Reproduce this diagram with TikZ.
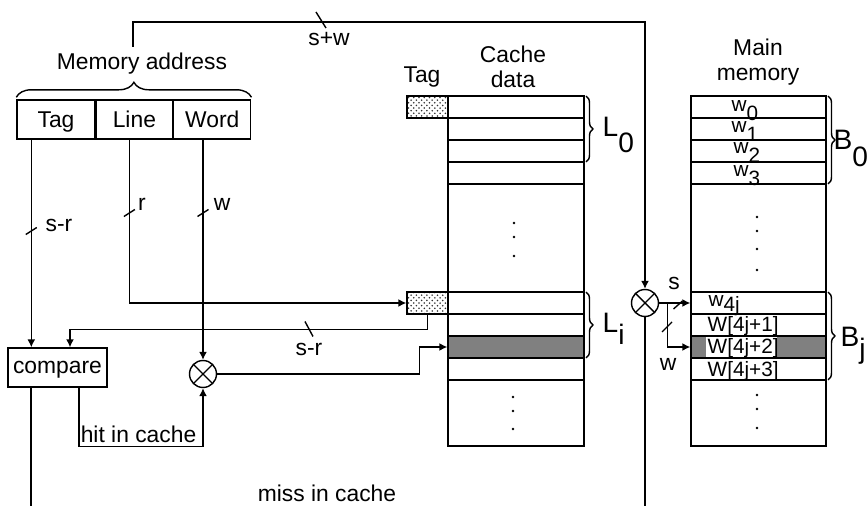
\documentclass[tikz,border=0pt]{standalone}
\usepackage{fontspec}
\setmainfont{Liberation Sans}
\usetikzlibrary{arrows.meta,positioning,calc,decorations.pathreplacing,patterns}

\newcommand{\lowr}[2][-0.42em]{\raisebox{#1}{#2}}

\tikzset{
  field/.style={draw, minimum height=0.78cm, inner sep=0pt, text height=9.3pt, text depth=0pt},
  cmpbox/.style={draw, minimum width=1.98cm, minimum height=0.78cm, inner sep=0pt, text height=9.3pt, text depth=3pt},
  tagbox/.style={draw, pattern=crosshatch dots, pattern color=black!80, minimum width=0.82cm, minimum height=0.44cm, inner sep=0pt},
  darkrow/.style={draw, fill=black!50, minimum height=0.44cm, inner sep=0pt},
  mux/.style={circle, draw, minimum size=0.54cm, inner sep=0pt,
    path picture={\draw (path picture bounding box.north west) -- (path picture bounding box.south east)
      (path picture bounding box.north east) -- (path picture bounding box.south west);}},
  rbrace/.style={decorate, decoration={brace, amplitude=0.14cm}},
  blab/.style={anchor=base west, inner sep=0pt, font=\fontsize{16}{18}\selectfont},
  wlab/.style={anchor=base west, inner sep=0pt, font=\fontsize{11.8}{13}\selectfont}
}

\begin{document}
\begin{tikzpicture}[x=0.02cm, y=-0.02cm, >={Latex[length=4.5pt,width=4.5pt]}, line width=0.8pt, font=\fontsize{13}{14.5}\selectfont]
  \useasboundingbox (0,0) rectangle (867,506);
  \coordinate (bot) at (0,506);

  % Adresse
  \node[field, minimum width=1.56cm] (tagf) at (56,119.5) {Tag};
  \node[field, minimum width=1.52cm, right=0pt of tagf] (linef) {Line};
  \node[field, minimum width=1.54cm, right=0pt of linef] (wordf) {Word};
  \draw[decorate, decoration={brace, amplitude=0.3cm}] ($(tagf.north west)+(0,-2)$) -- ($(wordf.north east)+(0,-2)$);
  \node[anchor=base] (addr) at (142,70) {Memory address};

  % Cache
  \node[anchor=base] (tagt) at (422,83) {Tag};
  \node[align=center] (ctitle) at (513,67) {Cache\\data};
  \draw (448,96) rectangle (584,446);
  \draw (448,118) -- (584,118) (448,140) -- (584,140) (448,162) -- (584,162) (448,184) -- (584,184);
  \draw (448,292) -- (584,292) (448,314) -- (584,314) (448,380) -- (584,380);
  \node[tagbox] (tag0) at (427.5,107) {};
  \node[tagbox] (tagi) at (427.5,303) {};
  \node[darkrow, minimum width=2.72cm] (crow) at (516,347) {};
  \fill (514,223) circle[radius=0.8pt] (514,237) circle[radius=0.8pt] (514,256) circle[radius=0.8pt];
  \fill (513,397) circle[radius=0.8pt] (513,411) circle[radius=0.8pt] (513,429) circle[radius=0.8pt];
  \draw[rbrace] (586,96) -- (586,162);
  \node[blab] (l0) at (602,137) {L\lowr[-0.55em]{0}};
  \draw[rbrace] (586,292) -- (586,358);
  \node[blab] (li) at (602,333) {L\lowr[-0.4em]{i}};

  % Hauptspeicher
  \node[align=center] (mtitle) at (758,62) {Main\\memory};
  \draw (691,96) rectangle (826,446);
  \draw (691,118) -- (826,118) (691,140) -- (826,140) (691,162) -- (826,162) (691,184) -- (826,184);
  \draw (691,292) -- (826,292) (691,314) -- (826,314) (691,380) -- (826,380);
  \node[minimum width=2.7cm, minimum height=0.44cm, inner sep=0pt] (mrow0) at (758.5,303) {};
  \node[darkrow, minimum width=2.7cm] (mrow2) at (758.5,347) {};
  \fill[white] (706,336.8) rectangle (777,357.2);
  \node[wlab] (w0) at (731,112) {w\lowr{0}};
  \node[wlab] (w1) at (731,133) {w\lowr{1}};
  \node[wlab] (w2) at (733,154) {w\lowr{2}};
  \node[wlab] (w3) at (733,177) {w\lowr{3}};
  \node[wlab] (w4j) at (708,307) {w\lowr[-0.22em]{4j}};
  \node[wlab] (w4j1) at (707,332) {W[4j+1]};
  \node[wlab] (w4j2) at (707,354) {W[4j+2]};
  \node[wlab] (w4j3) at (707,377) {W[4j+3]};
  \fill (757,217) circle[radius=0.8pt] (757,231) circle[radius=0.8pt] (757,249) circle[radius=0.8pt] (757,270) circle[radius=0.8pt];
  \fill (757,395) circle[radius=0.8pt] (757,409) circle[radius=0.8pt] (757,428) circle[radius=0.8pt];
  \draw[rbrace] (828,96) -- (828,184);
  \node[blab] (b0) at (833,150) {B\lowr[-0.6em]{0}};
  \draw[rbrace] (828,292) -- (828,380);
  \node[blab] (bj) at (840,347) {B\lowr[-0.4em]{j}};

  % Vergleich und Auswahl
  \node[cmpbox] (cmp) at (57.5,367.5) {compare};
  \node[mux] (mux1) at (203,374) {};
  \node[mux] (mux2) at (645,303) {};

  % Leitungen
  \draw[->] ($(addr.north)+(-9,0)$) -- ++(0,-25) -| (mux2.north);
  \draw (321,20) +(-5,-8) -- +(5,8);
  \node (sw) at (329,39) {s+w};

  \draw[->] ($(tagf.south west)+(15,0)$) coordinate (t1) -- (t1 |- cmp.north);
  \draw (t1 |- 0,231) +(-5.5,3.5) -- +(5.5,-3.5);
  \node (sr1) at (59,225) {s-r};

  \draw[->] ($(linef.south)+(-5,0)$) coordinate (t2) |- (tagi.west);
  \draw (t2 |- 0,213) +(-5.5,3.5) -- +(5.5,-3.5);
  \node (r) at (142,204) {r};

  \draw[->] (wordf.south -| mux1.north) -- (mux1.north);
  \draw (203,213) +(-5.5,3.5) -- +(5.5,-3.5);
  \node (w) at (222,204) {w};

  \draw[->] (tagi.south) -- ++(0,15) -| ($(cmp.north)+(12.5,0)$);
  \draw (309,329) +(-4,-7.5) -- +(4,7.5);
  \node (sr2) at (309,349) {s-r};

  \draw[->] (mux1.east) -| ($(crow.west)+(-28,0)$) -- (crow.west);
  \draw[->] ($(cmp.south)+(21.5,0)$) -- ++(0,59) -| (mux1.south)
    node[pos=0.24, above=1pt, inner sep=1pt] {hit in cache};
  \draw ($(cmp.south)+(-26.5,0)$) coordinate (t3) -- (t3 |- bot);
  \node (miss) at (327,493) {miss in cache};

  \draw[->] (mux2.east) -- (mrow0.west);
  \draw (678,305) +(-4.5,4) -- +(4.5,-4);
  \node (s) at (674,283) {s};
  \coordinate (br) at ($(mux2.east)+(8.5,0)$);
  \draw[->] (br) |- (mrow2.west);
  \draw (667,327) +(-5,5) -- +(5,-5);
  \node (w2l) at (668,364) {w};
  \draw (mux2.south) -- (mux2.south |- bot);
\end{tikzpicture}
\end{document}
